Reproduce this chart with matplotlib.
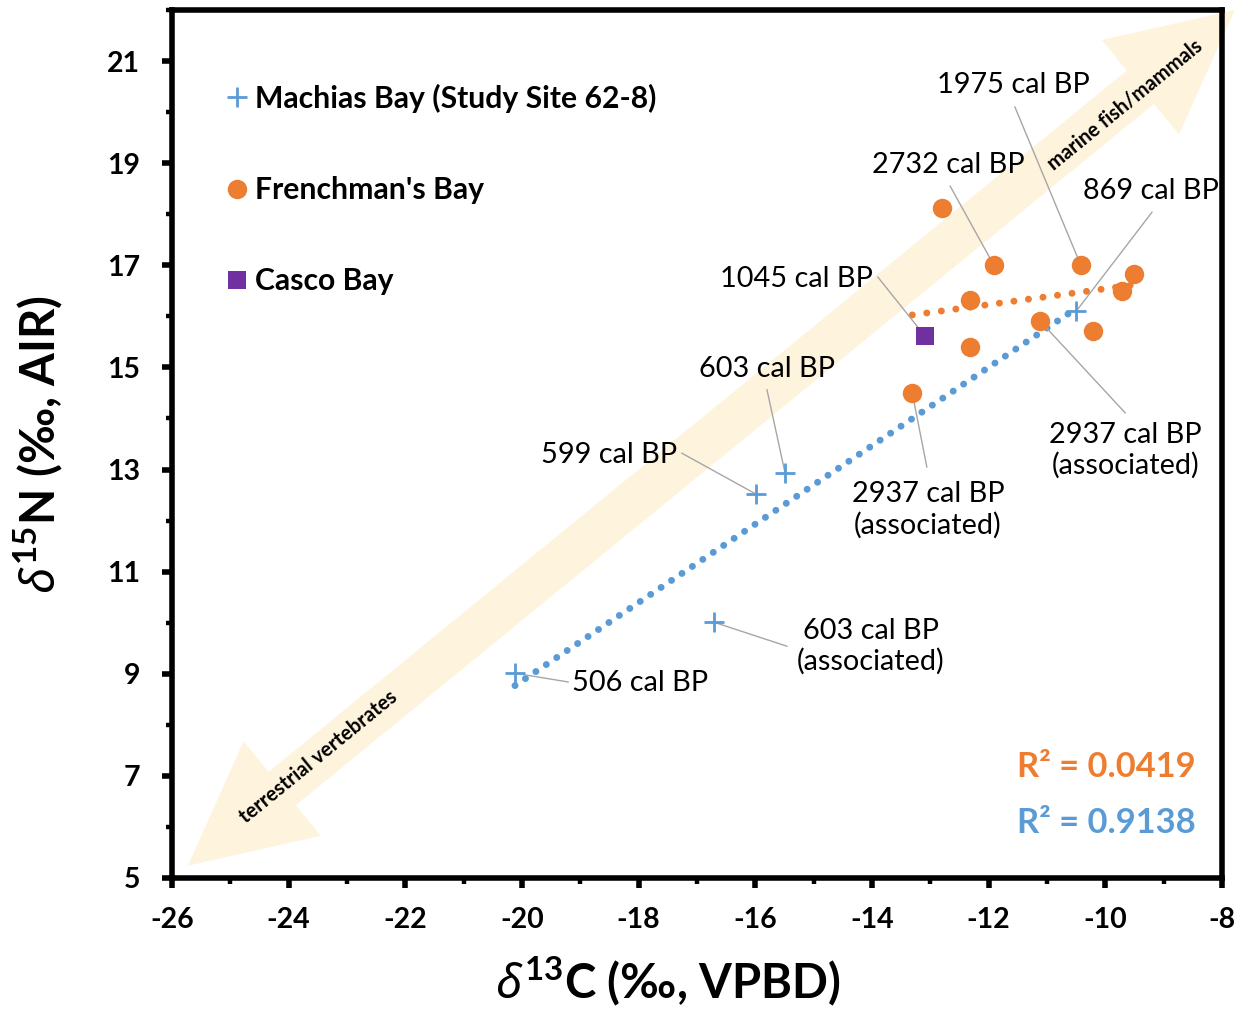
import numpy as np
import matplotlib
matplotlib.use("Agg")
import matplotlib.pyplot as plt
from matplotlib.lines import Line2D
from matplotlib.patches import Polygon
from matplotlib.ticker import MultipleLocator

plt.rcParams['font.family'] = ['Lato', 'DejaVu Sans']
plt.rcParams['mathtext.fontset'] = 'custom'
plt.rcParams['mathtext.rm'] = 'Lato:bold'
plt.rcParams['mathtext.bf'] = 'Lato:bold'
plt.rcParams['mathtext.it'] = 'Noto Sans:italic:bold'

# ---------------- data ----------------
machias_x = [-20.12, -16.71, -15.99, -15.49, -10.50]
machias_y = [9.01, 10.01, 12.52, 12.93, 16.10]

frenchman_x = [-12.80, -11.91, -10.42, -9.51, -9.71, -12.32, -11.12, -10.21, -12.32, -13.31]
frenchman_y = [18.12, 17.00, 17.00, 16.83, 16.50, 16.32, 15.91, 15.71, 15.40, 14.50]

casco_x = [-13.09]
casco_y = [15.61]

series_labels = ["Machias Bay (Study Site 62-8)", "Frenchman's Bay", "Casco Bay"]
r2_labels = ["R\u00b2 = 0.0419", "R\u00b2 = 0.9138"]

x_ticks = [-26, -24, -22, -20, -18, -16, -14, -12, -10, -8]
y_ticks = [5, 7, 9, 11, 13, 15, 17, 19, 21]

# annotation: label, target point, text position, leader start
ann_labels = ["1975 cal BP", "2732 cal BP", "869 cal BP", "1045 cal BP", "603 cal BP",
              "599 cal BP", "2937 cal BP\n(associated)", "2937 cal BP\n(associated)",
              "603 cal BP\n(associated)", "506 cal BP"]
ann_target = [(-10.42, 17.00), (-11.91, 17.00), (-10.50, 16.10), (-13.09, 15.61), (-15.49, 12.93),
              (-15.99, 12.52), (-13.31, 14.50), (-11.12, 15.91), (-16.71, 10.01), (-20.12, 9.01)]
ann_text = [(-11.58, 20.53), (-12.70, 18.96), (-9.22, 18.45), (-15.29, 16.73), (-15.80, 14.97),
            (-18.51, 13.28), (-13.04, 12.21), (-9.66, 13.38), (-14.02, 9.54), (-17.98, 8.82)]
ann_start = [(-11.55, 20.10), (-12.66, 18.55), (-9.20, 18.04), (-13.90, 16.77), (-15.80, 14.56),
             (-17.26, 13.32), (-13.06, 13.05), (-9.66, 14.11), (-15.46, 9.54), (-19.21, 8.84)]

# ---------------- colours ----------------
BLUE = '#5B9BD5'
ORANGE = '#ED7D31'
PURPLE = '#7030A0'
ARROW = '#FEF4DD'
LEADER = '#A6A6A6'

fig = plt.figure(figsize=(12.47, 10.10), dpi=100)
ax = fig.add_axes([172/1247, 1-878/1010, 1050/1247, 868/1010])
ax.set_xlim(-26, -8)
ax.set_ylim(5, 22)

# ---- big double arrow (display-space geometry, converted to axes coords) ----
p0 = ax.transData.transform((-25.73, 5.24))
p1 = ax.transData.transform((-7.78, 22.0))
u = (p1 - p0) / np.hypot(*(p1 - p0))
n = np.array([-u[1], u[0]])
h, H, w = 122, 61, 21.5
pts = [p0, p0 + h*u + H*n, p0 + h*u + w*n, p1 - h*u + w*n, p1 - h*u + H*n, p1,
       p1 - h*u - H*n, p1 - h*u - w*n, p0 + h*u - w*n, p0 + h*u - H*n]
pts_ax = ax.transAxes.inverted().transform(np.array(pts))
ax.add_patch(Polygon(pts_ax, closed=True, transform=ax.transAxes, facecolor=ARROW,
                     edgecolor='none', zorder=0, clip_on=False))
ang = np.degrees(np.arctan2(u[1], u[0]))
ax.text(-9.66, 20.14, "marine fish/mammals", rotation=ang, rotation_mode='anchor',
        ha='center', va='center', fontsize=14.5, fontweight='bold', zorder=1)
ax.text(-23.48, 7.37, "terrestrial vertebrates", rotation=ang, rotation_mode='anchor',
        ha='center', va='center', fontsize=14.5, fontweight='bold', zorder=1)

# ---- trendlines ----
mx = np.array(machias_x); my = np.array(machias_y)
fx = np.array(frenchman_x); fy = np.array(frenchman_y)
cb = np.polyfit(mx, my, 1)
cf = np.polyfit(fx, fy, 1)
xb = np.array([mx.min(), mx.max()])
xf = np.array([fx.min(), fx.max()])
ax.plot(xb, np.polyval(cb, xb), color=BLUE, lw=5, linestyle=(0, (0.01, 1.8)),
        dash_capstyle='round', zorder=2)
ax.plot(xf, np.polyval(cf, xf), color=ORANGE, lw=5, linestyle=(0, (0.01, 2.1)),
        dash_capstyle='round', zorder=2)

# ---- leader lines & labels ----
for lab, tgt, tp, st in zip(ann_labels, ann_target, ann_text, ann_start):
    ax.plot([st[0], tgt[0]], [st[1], tgt[1]], color=LEADER, lw=1, zorder=3)
    ax.text(tp[0], tp[1], lab, ha='center', va='center', fontsize=20.8,
            linespacing=1.2, zorder=4)

# ---- points ----
ax.plot(mx, my, linestyle='none', marker='+', color=BLUE, markersize=15, mew=2, zorder=5)
ax.plot(fx, fy, linestyle='none', marker='o', color=ORANGE, markersize=14, mew=0, zorder=5)
ax.plot(casco_x, casco_y, linestyle='none', marker='s', color=PURPLE, markersize=12.5,
        mew=0, zorder=5)

# ---- R^2 ----
ax.text(0.975, 0.128, r2_labels[0], transform=ax.transAxes, ha='right', va='center',
        color=ORANGE, fontsize=24.8, fontweight='bold')
ax.text(0.975, 0.063, r2_labels[1], transform=ax.transAxes, ha='right', va='center',
        color=BLUE, fontsize=24.8, fontweight='bold')

# ---- legend ----
handles = [Line2D([], [], linestyle='none', marker='+', color=BLUE, markersize=15, mew=2),
           Line2D([], [], linestyle='none', marker='o', color=ORANGE, markersize=14, mew=0),
           Line2D([], [], linestyle='none', marker='s', color=PURPLE, markersize=12.5, mew=0)]
ax.legend(handles, series_labels, loc='upper left', bbox_to_anchor=(0.050, 0.915),
          frameon=False, prop={'weight': 'bold', 'size': 21.7}, handlelength=0.8,
          handletextpad=0.22, labelspacing=2.1, borderaxespad=0, borderpad=0)

# ---- axes styling ----
for s in ax.spines.values():
    s.set_linewidth(4)
ax.xaxis.set_major_locator(MultipleLocator(2))
ax.xaxis.set_minor_locator(MultipleLocator(1))
ax.yaxis.set_major_locator(MultipleLocator(2))
ax.yaxis.set_minor_locator(MultipleLocator(1))
ax.set_xticks(x_ticks)
ax.set_yticks(y_ticks)
ax.set_xticklabels([str(t) for t in x_ticks])
ax.set_yticklabels([str(t) for t in y_ticks])
ax.tick_params(which='major', direction='out', length=7, width=4, labelsize=20.5, pad=14)
ax.tick_params(which='minor', direction='out', length=4, width=3.2)
ax.tick_params(axis='y', which='major', pad=16)
for lbl in ax.get_xticklabels() + ax.get_yticklabels():
    lbl.set_fontweight('bold')

ax.set_xlabel(r'$\delta^{\mathbf{13}}$' + 'C (\u2030, VPBD)', fontsize=34,
              fontweight='bold', labelpad=15)
ax.xaxis.label.set_x(0.472)
ax.set_ylabel(r'$\delta^{\mathbf{15}}$' + 'N (\u2030, AIR)', fontsize=34,
              fontweight='bold', labelpad=30)

fig.savefig('out.png', dpi=100)
